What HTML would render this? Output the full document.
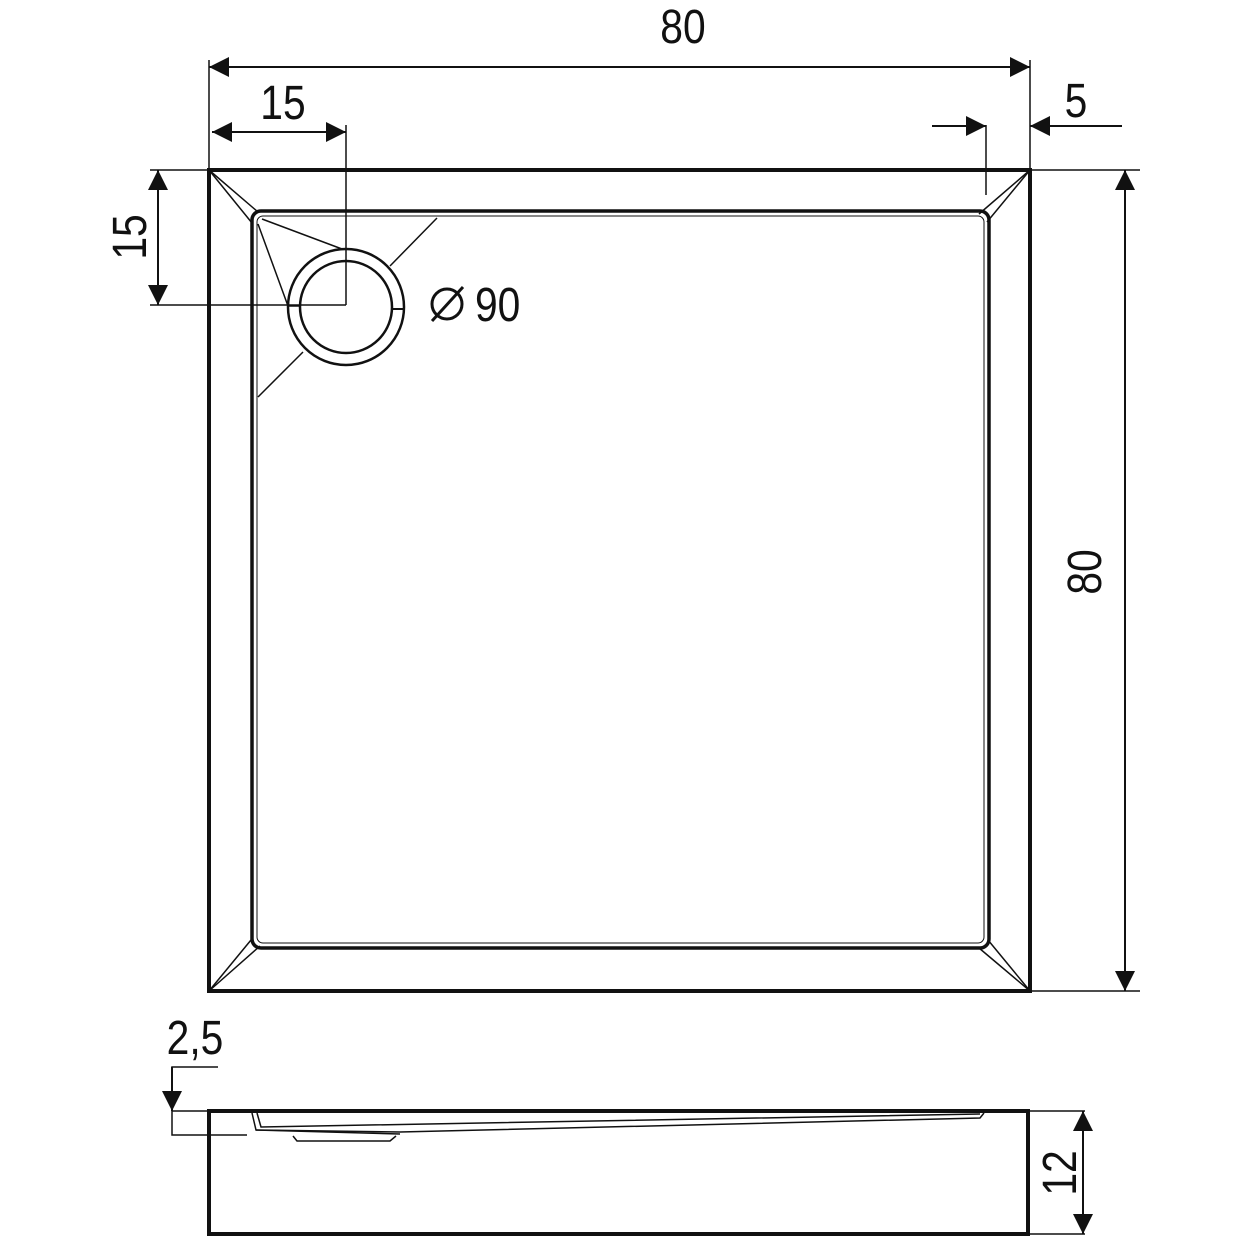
<!DOCTYPE html>
<html><head><style>html,body{margin:0;padding:0;background:#fff}svg{display:block}</style></head>
<body>
<svg width="1237" height="1237" viewBox="0 0 1237 1237" xmlns="http://www.w3.org/2000/svg" font-family="Liberation Sans, sans-serif" fill="none" stroke="#111">
<defs>
<marker id="a" viewBox="0 0 10 10" refX="10" refY="5" markerWidth="20" markerHeight="20" markerUnits="userSpaceOnUse" orient="auto-start-reverse"><path d="M0,0L10,5L0,10z" fill="#111" stroke="none"/></marker>
</defs>
<g stroke-width="1.5">
<line x1="209" y1="60" x2="209" y2="170"/>
<line x1="1030" y1="60" x2="1030" y2="170"/>
<line x1="346" y1="125" x2="346" y2="305"/>
<line x1="986" y1="125" x2="986" y2="195"/>
<line x1="150" y1="170" x2="209" y2="170"/>
<line x1="150" y1="305" x2="346" y2="305"/>
<line x1="1030" y1="170" x2="1140" y2="170"/>
<line x1="1030" y1="991" x2="1140" y2="991"/>
<line x1="1030" y1="1111" x2="1085" y2="1111"/>
<line x1="1030" y1="1234" x2="1085" y2="1234"/>
<polyline points="218,1067 172,1067 172,1135 247,1135"/>
<line x1="172" y1="1111" x2="209" y2="1111"/>
</g>
<g stroke-width="2">
<line x1="209" y1="67" x2="1030" y2="67" marker-start="url(#a)" marker-end="url(#a)"/>
<line x1="212" y1="132" x2="346" y2="132" marker-start="url(#a)" marker-end="url(#a)"/>
<line x1="158" y1="170" x2="158" y2="305" marker-start="url(#a)" marker-end="url(#a)"/>
<line x1="1125" y1="170" x2="1125" y2="991" marker-start="url(#a)" marker-end="url(#a)"/>
<line x1="1083" y1="1111" x2="1083" y2="1234" marker-start="url(#a)" marker-end="url(#a)"/>
<line x1="932" y1="126" x2="986" y2="126" marker-end="url(#a)"/>
<line x1="1122" y1="126" x2="1030" y2="126" marker-end="url(#a)"/>
<line x1="172" y1="1067" x2="172" y2="1111" marker-end="url(#a)"/>
</g>
<rect x="209" y="170" width="821" height="821" stroke-width="4"/>
<rect x="252" y="211" width="737" height="737" rx="9" stroke-width="3.5"/>
<rect x="257" y="216" width="727" height="727" rx="6" stroke-width="1"/>
<g stroke-width="1.5">
<line x1="209" y1="170" x2="258" y2="212"/><line x1="209" y1="170" x2="252" y2="223"/>
<line x1="1030" y1="170" x2="979" y2="214"/><line x1="1030" y1="170" x2="987" y2="222"/>
<line x1="209" y1="991" x2="251" y2="940"/><line x1="209" y1="991" x2="260" y2="946"/>
<line x1="1030" y1="991" x2="988" y2="940"/><line x1="1030" y1="991" x2="979" y2="948"/>
<line x1="262" y1="219" x2="342" y2="249"/>
<line x1="258" y1="224" x2="288" y2="306"/>
<line x1="437" y1="218" x2="390" y2="266"/>
<line x1="258" y1="397" x2="303" y2="352"/>
</g>
<circle cx="346" cy="307" r="58" stroke-width="2.5"/>
<circle cx="346" cy="307" r="46" stroke-width="2.5"/>
<line x1="288" y1="306" x2="300" y2="306" stroke-width="1.5"/>
<line x1="392" y1="309" x2="404" y2="309" stroke-width="2"/>
<path d="M209,1111 H1028 V1234 H209 Z" stroke-width="4"/>
<g stroke-width="1.5">
<path d="M252,1113 L256,1130 L400,1132 L980,1118 L984,1113"/>
<path d="M257,1113 L261,1127 L980,1114"/>
<path d="M293,1136 L297,1141 L390,1141 L396,1136"/>
<line x1="256" y1="1130" x2="400" y2="1134"/>
</g>
<g fill="#111" stroke="none" font-size="48">
<text x="683" y="43" text-anchor="middle" transform="translate(683 0) scale(0.85 1) translate(-683 0)">80</text>
<text x="283" y="119" text-anchor="middle" transform="translate(283 0) scale(0.85 1) translate(-283 0)">15</text>
<text x="1076" y="117" text-anchor="middle" transform="translate(1076 0) scale(0.85 1) translate(-1076 0)">5</text>
<text x="195" y="1054" text-anchor="middle" transform="translate(195 0) scale(0.85 1) translate(-195 0)">2,5</text>
<text x="475" y="321" text-anchor="start" transform="translate(475 0) scale(0.85 1) translate(-475 0)">90</text>
<text transform="translate(146 237) rotate(-90) scale(0.85 1)" text-anchor="middle">15</text>
<text transform="translate(1101 572) rotate(-90) scale(0.85 1)" text-anchor="middle">80</text>
<text transform="translate(1076 1173) rotate(-90) scale(0.85 1)" text-anchor="middle">12</text>
</g>
<circle cx="447" cy="304" r="15" stroke-width="3"/>
<line x1="432" y1="321" x2="463" y2="287" stroke-width="3"/>
</svg>
</body></html>
